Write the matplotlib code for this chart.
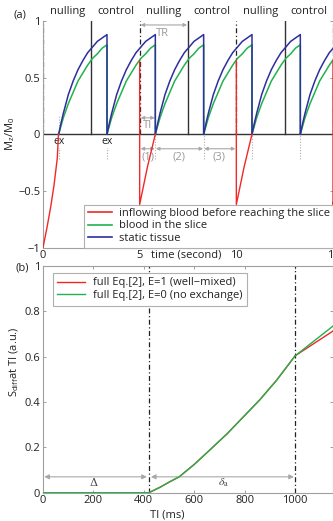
import matplotlib
matplotlib.use("Agg")
import matplotlib.pyplot as plt
import numpy as np

plt.rcParams['font.family'] = ['Open Sans', 'DejaVu Sans']
plt.rcParams['font.size'] = 7.5

# ---------------- data (panel a) ----------------
TR = 2.5
ex_times = [0.81, 3.31, 5.81, 8.31, 10.81, 13.31]
recovery_dt = [0, 0.125, 0.25, 0.375, 0.5, 0.625, 0.75, 0.875, 1.0, 1.25, 1.5, 1.75, 2.0, 2.25, 2.5]
static_tissue = [0, 0.10, 0.19, 0.27, 0.35, 0.41, 0.47, 0.52, 0.57, 0.65, 0.72, 0.77, 0.82, 0.85, 0.88]
blood_in_slice = [0, 0.075, 0.15, 0.21, 0.27, 0.32, 0.37, 0.42, 0.47, 0.54, 0.61, 0.67, 0.71, 0.76, 0.79]
inflow_first_t = [0, 0.2, 0.4, 0.57, 0.74, 0.8]
inflow_first_v = [-1, -0.83, -0.64, -0.45, -0.21, 0]
inversion_times = [5, 10, 15]
inflow_inv_dt = [0, 0, 0.4, 0.81]
inflow_inv_v = [0.65, -0.62, -0.29, 0]
period_labels = ['nulling', 'control', 'nulling', 'control', 'nulling', 'control']
boundary_control = [2.5, 7.5, 12.5]
boundary_nulling = [0, 5, 10, 15]

# ---------------- data (panel b) ----------------
TI_ms = [0, 420, 464, 504, 540, 600, 663, 730, 795, 860, 927, 1000, 1150]
S_noexch = [0, 0, 0.024, 0.049, 0.07, 0.125, 0.19, 0.26, 0.335, 0.41, 0.497, 0.604, 0.735]
S_mixed = [0, 0, 0.024, 0.049, 0.07, 0.125, 0.19, 0.26, 0.335, 0.41, 0.497, 0.604, 0.713]
delta_ms = 420
delta_a_end = 1000

RED = '#f02828'
GREEN = '#22b24c'
BLUE = '#2e2e9e'
GRAY = '#a8a8a8'
SPINE = '#a0a0a0'
TXT = '#222222'

fig = plt.figure(figsize=(3.33, 5.21), dpi=100)
ax1 = fig.add_axes([43/333, 1-247.5/521, 290/333, 226.5/521])
ax2 = fig.add_axes([43/333, 1-492.7/521, 290/333, 226.7/521])

# ---------------- panel a ----------------
ax1.axhline(0, color='#333333', lw=1.0, zorder=2)
for t in boundary_control:
    ax1.plot([t, t], [0, 1], color='#333333', lw=1.0, zorder=2)
for t in boundary_nulling:
    ax1.plot([t, t], [0, 1], color='#222222', lw=0.9, ls=(0, (4, 2, 1, 2)), zorder=2)
for t0 in ex_times:
    ax1.plot([t0, t0], [-0.22, 0.16], color='#b0b0b0', lw=0.8, ls=(0, (1, 1.5)), zorder=1)

for t0 in ex_times:
    tt = [t0 + d for d in recovery_dt] + [t0 + TR]
    ax1.plot(tt, blood_in_slice + [0], color=GREEN, lw=1.1, zorder=3)
for t0 in ex_times:
    tt = [t0 + d for d in recovery_dt] + [t0 + TR]
    ax1.plot(tt, static_tissue + [0], color=BLUE, lw=1.1, zorder=4)

ax1.plot(inflow_first_t, inflow_first_v, color=RED, lw=1.0, zorder=5)
for t0 in inversion_times:
    ax1.plot([t0 + d for d in inflow_inv_dt], inflow_inv_v, color=RED, lw=1.0, zorder=5)

# period labels
for i, lab in enumerate(period_labels):
    ax1.text(1.25 + 2.5*i, 1.035, lab, ha='center', va='bottom', color=TXT, fontsize=8)

for t0 in ex_times[:2]:
    ax1.text(t0, -0.065, 'ex', ha='center', va='center', color=TXT, fontsize=7.5,
             bbox=dict(facecolor='white', edgecolor='none', pad=0.3))

arrow_kw = dict(arrowstyle='<|-|>', color=GRAY, lw=0.8, mutation_scale=5,
                shrinkA=0, shrinkB=0)
ax1.annotate('', xy=(5.05, 0.965), xytext=(7.45, 0.965), arrowprops=arrow_kw)
ax1.text(6.2, 0.89, 'TR', color='#999999', ha='center', va='center', fontsize=8)
ax1.annotate('', xy=(5.05, 0.145), xytext=(5.78, 0.145), arrowprops=arrow_kw)
ax1.text(5.43, 0.075, 'TI', color='#999999', ha='center', va='center', fontsize=8)
ax1.annotate('', xy=(5.05, -0.128), xytext=(5.78, -0.128), arrowprops=arrow_kw)
ax1.annotate('', xy=(5.84, -0.128), xytext=(8.28, -0.128), arrowprops=arrow_kw)
ax1.annotate('', xy=(8.34, -0.128), xytext=(9.95, -0.128), arrowprops=arrow_kw)
ax1.text(5.43, -0.2, '(1)', color='#999999', ha='center', va='center', fontsize=8)
ax1.text(7.05, -0.2, '(2)', color='#999999', ha='center', va='center', fontsize=8)
ax1.text(9.1, -0.2, '(3)', color='#999999', ha='center', va='center', fontsize=8)

ax1.set_xlim(0, 15)
ax1.set_ylim(-1, 1)
ax1.set_xticks([0, 5, 10, 15])
ax1.set_xticklabels(['0', '5', '10', '15'])
ax1.set_yticks([-1, -0.5, 0, 0.5, 1])
ax1.set_yticklabels(['\u22121', '\u22120.5', '0', '0.5', '1'])
ax1.tick_params(direction='in', length=2.5, width=0.7, color=SPINE, labelcolor=TXT,
                right=True, pad=2, labelsize=8)
for s in ['left', 'bottom', 'right']:
    ax1.spines[s].set_color(SPINE)
    ax1.spines[s].set_linewidth(0.8)
ax1.spines['top'].set_visible(False)
ax1.text(7.4, -1.02, 'time (second)', ha='center', va='top', color=TXT, fontsize=8)
ax1.set_ylabel(r'M$_\mathregular{z}$/M$_\mathregular{0}$', color=TXT, fontsize=8, labelpad=1)
fig.text(20/333, 1-15/521, '(a)', ha='center', va='center', color=TXT, fontsize=8)

leg1 = ax1.legend(handles=[plt.Line2D([], [], color=RED, lw=1.2),
                           plt.Line2D([], [], color=GREEN, lw=1.2),
                           plt.Line2D([], [], color=BLUE, lw=1.2)],
                  labels=['inflowing blood before reaching the slice',
                          'blood in the slice', 'static tissue'],
                  loc='lower right', borderaxespad=0, fancybox=False, fontsize=8,
                  handlelength=2.2, handletextpad=0.6, labelspacing=0.15,
                  borderpad=0.3, framealpha=1)
leg1.get_frame().set_edgecolor('#b0b0b0')
leg1.get_frame().set_linewidth(0.8)
for t in leg1.get_texts():
    t.set_color(TXT)

# ---------------- panel b ----------------
ax2.plot(TI_ms, S_mixed, color=RED, lw=1.0, label='full Eq.[2], E=1 (well\u2212mixed)', zorder=3)
ax2.plot(TI_ms, S_noexch, color=GREEN, lw=1.0, label='full Eq.[2], E=0 (no exchange)', zorder=4)
for t in [delta_ms, delta_a_end]:
    ax2.axvline(t, color='#222222', lw=0.9, ls=(0, (4, 2, 1, 2)), zorder=2)

ax2.annotate('', xy=(5, 0.07), xytext=(delta_ms - 8, 0.07), arrowprops=dict(arrow_kw, mutation_scale=7))
ax2.annotate('', xy=(delta_ms + 8, 0.07), xytext=(delta_a_end - 5, 0.07), arrowprops=dict(arrow_kw, mutation_scale=7))
ax2.text(200, 0.043, '\u0394', ha='center', va='center', color='#444444', fontsize=8, family='DejaVu Serif')
ax2.text(715, 0.043, r'$\delta_\mathrm{a}$', ha='center', va='center', color='#444444', fontsize=8.5,
         math_fontfamily='stix')

ax2.set_xlim(0, 1150)
ax2.set_ylim(0, 1)
ax2.set_xticks([0, 200, 400, 600, 800, 1000])
ax2.set_yticks([0, 0.2, 0.4, 0.6, 0.8, 1])
ax2.set_yticklabels(['0', '0.2', '0.4', '0.6', '0.8', '1'])
ax2.tick_params(direction='in', length=2.5, width=0.7, color=SPINE, labelcolor=TXT,
                right=True, top=True, pad=2, labelsize=8)
for s in ax2.spines.values():
    s.set_color(SPINE)
    s.set_linewidth(0.8)
ax2.text(0.43, -0.075, 'TI (ms)', transform=ax2.transAxes, ha='center', va='top', color=TXT, fontsize=8)
ax2.set_ylabel(r'S$_\mathregular{diff}$at TI (a.u.)', color=TXT, fontsize=8, labelpad=1)
ax2.yaxis.set_label_coords(-0.075, 0.577)
fig.text(22/333, 1-268/521, '(b)', ha='center', va='center', color=TXT, fontsize=8)

leg2 = ax2.legend(loc='upper left', bbox_to_anchor=(0.034, 0.969), borderaxespad=0,
                  fancybox=False, fontsize=8, handlelength=2.5, handletextpad=0.7,
                  labelspacing=0.15, borderpad=0.4, framealpha=1)
leg2.get_frame().set_edgecolor('#b0b0b0')
leg2.get_frame().set_linewidth(0.8)
for t in leg2.get_texts():
    t.set_color(TXT)

fig.savefig('out.png', dpi=100)
